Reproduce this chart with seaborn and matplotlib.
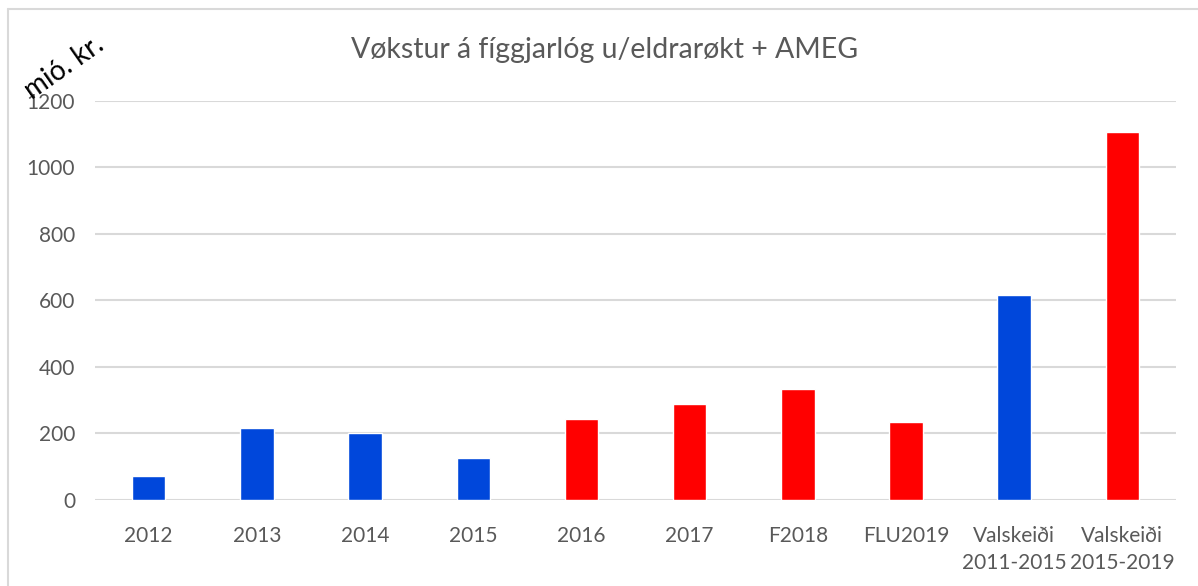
import matplotlib
matplotlib.use("Agg")
import matplotlib.pyplot as plt
import pandas as pd
import seaborn as sns

categories = ["2012", "2013", "2014", "2015", "2016", "2017", "F2018", "FLU2019",
              "Valskeiði\n2011-2015", "Valskeiði\n2015-2019"]
values = [72, 215, 200, 126, 244, 289, 334, 235, 617, 1107]
groups = ["fyrr", "fyrr", "fyrr", "fyrr", "seinni", "seinni", "seinni", "seinni", "fyrr", "seinni"]

df = pd.DataFrame({"category": categories, "value": values, "group": groups})
palette = {"fyrr": "#0047DB", "seinni": "#FF0000"}

sns.set_theme(style="white")
plt.rcParams["font.family"] = ["Lato", "DejaVu Sans"]

fig = plt.figure(figsize=(11.98, 5.86), dpi=100)
ax = fig.add_axes([0.079, 0.147, 0.903, 0.681])

sns.barplot(data=df, x="category", y="value", hue="group", palette=palette,
            dodge=False, width=0.31, legend=False, ax=ax, saturation=1)

ax.set_ylim(0, 1200)
ax.set_yticks(range(0, 1201, 200))
ax.set_xlim(-0.5, len(categories) - 0.5)
ax.grid(axis="y", color="#d9d9d9", linewidth=1.5)
ax.set_axisbelow(True)
for s in ax.spines.values():
    s.set_visible(False)
ax.tick_params(axis="both", length=0, labelsize=15, colors="#595959")
ax.tick_params(axis="y", pad=14)
ax.tick_params(axis="x", pad=19)
for lbl in ax.get_xticklabels():
    lbl.set_linespacing(1.45)
ax.set_xlabel("")
ax.set_ylabel("")

fig.text(0.505, 0.915, "Vøkstur á fíggjarlóg u/eldrarøkt + AMEG", ha="center", va="center",
         fontsize=20.5, color="#595959")
fig.text(0.054, 0.885, "mió. kr.", ha="center", va="center", rotation=35,
         fontsize=20, color="black")

# chart frame
fig.add_artist(plt.Line2D([0.0067, 0.0067], [0, 0.985], color="#d9d9d9", linewidth=1.5))
fig.add_artist(plt.Line2D([0.0067, 1.0], [0.985, 0.985], color="#d9d9d9", linewidth=1.5))

fig.savefig("out.png", dpi=100)
